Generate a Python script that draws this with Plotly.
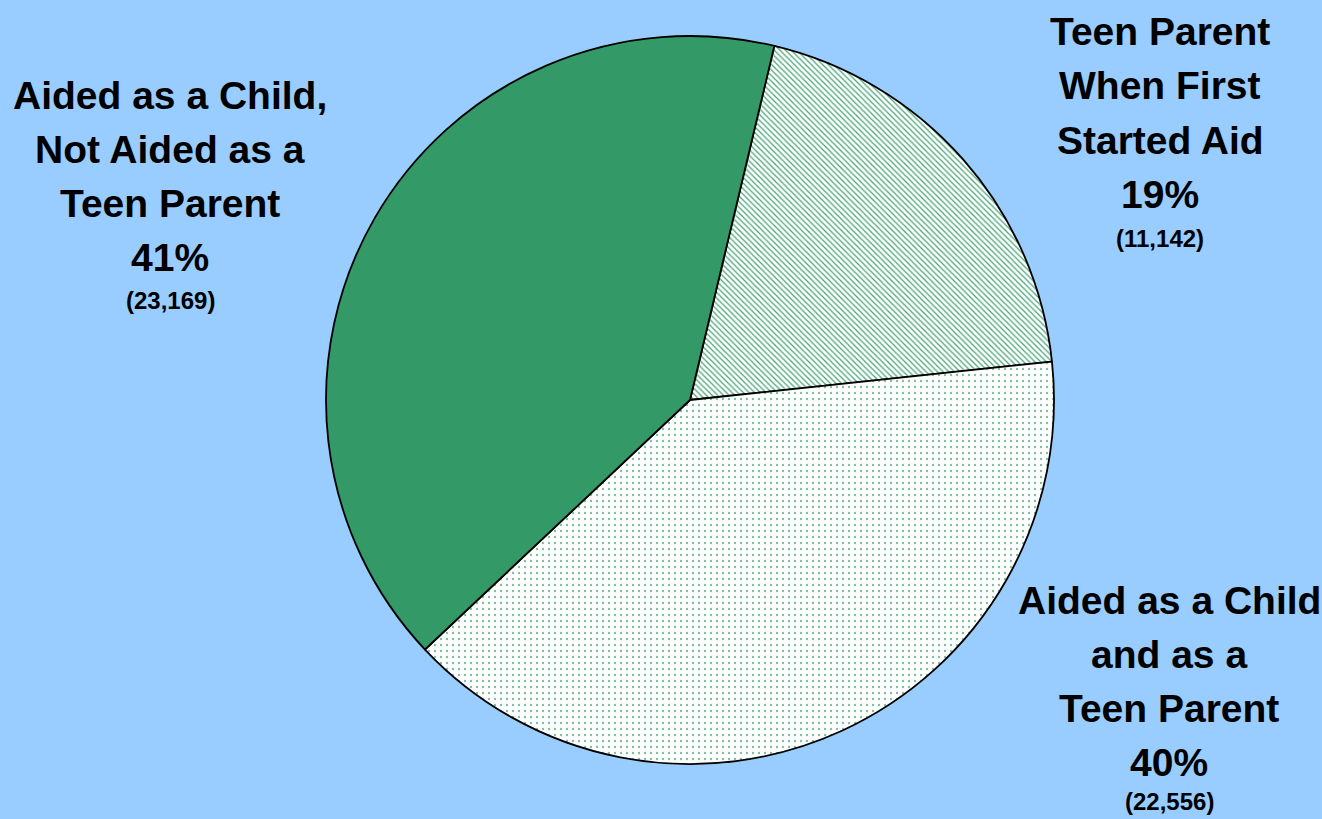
import plotly.graph_objects as go

# Data (clockwise from the slice starting just right of 12 o'clock)
categories = ["Teen Parent When First Started Aid",
              "Aided as a Child and as a Teen Parent",
              "Aided as a Child, Not Aided as a Teen Parent"]
counts = [11142, 22556, 23169]
percent_labels = ["19%", "40%", "41%"]
count_labels = ["(11,142)", "(22,556)", "(23,169)"]
label_lines = [
    ["Teen Parent", "When First", "Started Aid"],
    ["Aided as a Child", "and as a", "Teen Parent"],
    ["Aided as a Child,", "Not Aided as a", "Teen Parent"],
]

W, H = 1322, 819
GREEN = "#339966"
BG = "#99CCFF"

fig = go.Figure()
fig.add_trace(go.Pie(
    labels=categories,
    values=counts,
    sort=False,
    direction="clockwise",
    rotation=13.4,
    textinfo="none",
    hoverinfo="label+value+percent",
    showlegend=False,
    marker=dict(
        colors=["#ffffff", "#ffffff", GREEN],
        line=dict(color="black", width=1.8),
        pattern=dict(
            shape=["\\", ".", ""],
            fgcolor=["#4aa57a", "#7fbf9f", GREEN],
            bgcolor=["#ffffff", "#ffffff", GREEN],
            size=[4, 6, 6],
            solidity=[0.32, 0.12, 0.3],
        ),
    ),
    domain=dict(x=[326 / W, 1054 / W], y=[1 - 765 / H, 1 - 35 / H]),
))

# label block positions (pixel centre x, first-line centre y, count centre y)
label_pos = [(1160, 32, 238), (1169, 600, 801), (170, 95, 300)]
line_gap = 54

annotations = []
for i in range(len(categories)):
    cx, y0, yc = label_pos[i]
    lines = label_lines[i] + [percent_labels[i]]
    for j, ln in enumerate(lines):
        annotations.append(dict(
            x=cx / W, y=1 - (y0 + j * line_gap) / H, xref="paper", yref="paper",
            text=ln, showarrow=False, xanchor="center", yanchor="middle",
            font=dict(family="Arial, Liberation Sans", size=39, color="black", weight="bold"),
        ))
    annotations.append(dict(
        x=cx / W, y=1 - yc / H, xref="paper", yref="paper",
        text=count_labels[i], showarrow=False, xanchor="center", yanchor="middle",
        font=dict(family="Arial, Liberation Sans", size=24, color="black", weight="bold"),
    ))

fig.update_layout(
    width=W, height=H,
    paper_bgcolor=BG, plot_bgcolor=BG,
    margin=dict(l=0, r=0, t=0, b=0),
    annotations=annotations,
)

fig.write_html("out.html",
               config={"displayModeBar": False},
               post_script="document.body.style.margin='0px';document.body.style.overflow='hidden';")
